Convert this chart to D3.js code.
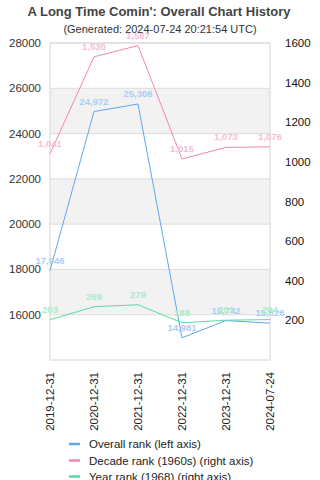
<!DOCTYPE html>
<html>
<head>
<meta charset="utf-8">
<script src="https://d3js.org/d3.v7.min.js"></script>
<style>
  body { margin: 0; background: #fff; }
  text { font-family: Arial, "Liberation Sans", sans-serif; }
</style>
</head>
<body>
<svg id="vis"></svg>
<script>
  // chart data
  var dates = ["2019-12-31", "2020-12-31", "2021-12-31", "2022-12-31", "2023-12-31", "2024-07-24"];
  var overallRank = [17946, 24972, 25306, 14981, 15742, 15626];
  var decadeRank = [1041, 1530, 1587, 1015, 1073, 1076];
  var yearRank = [203, 269, 279, 188, 201, 204];
  var leftTicks = [16000, 18000, 20000, 22000, 24000, 26000, 28000];
  var rightTicks = [200, 400, 600, 800, 1000, 1200, 1400, 1600];
  var seriesNames = ["Overall rank (left axis)", "Decade rank (1960s) (right axis)", "Year rank (1968) (right axis)"];

  var W = 320, H = 480;
  var plotL = 50, plotR = 270, plotT = 43, plotB = 360;

  var svg = d3.select("#vis").attr("width", W).attr("height", H);

  var x = d3.scalePoint().domain(dates).range([plotL, plotR]);
  var yL = d3.scaleLinear().domain([14000, 28000]).range([plotB, plotT]);
  var yR = d3.scaleLinear().domain([0, 1600]).range([plotB, plotT]);

  // alternating bands between left-axis gridlines
  var bandEdges = [14000].concat(leftTicks);
  for (var i = 0; i < bandEdges.length - 1; i++) {
    if (i % 2 === 1) {
      svg.append("rect")
        .attr("x", plotL).attr("width", plotR - plotL)
        .attr("y", yL(bandEdges[i + 1]))
        .attr("height", yL(bandEdges[i]) - yL(bandEdges[i + 1]))
        .attr("fill", "#f2f2f2");
    }
  }

  svg.selectAll(".grid").data(leftTicks).enter().append("line")
    .attr("x1", plotL).attr("x2", plotR)
    .attr("y1", function(d) { return yL(d); }).attr("y2", function(d) { return yL(d); })
    .attr("stroke", "#dddddd").attr("stroke-width", 1);

  svg.append("rect")
    .attr("x", plotL).attr("y", plotT)
    .attr("width", plotR - plotL).attr("height", plotB - plotT)
    .attr("fill", "none").attr("stroke", "#d6d6d6").attr("stroke-width", 1);

  // axes labels
  svg.selectAll(".ltick").data(leftTicks).enter().append("text")
    .attr("x", plotL - 9).attr("y", function(d) { return yL(d) + 4; })
    .attr("text-anchor", "end").attr("font-size", 11.5).attr("fill", "#333")
    .text(function(d) { return d; });

  svg.selectAll(".rtick").data(rightTicks).enter().append("text")
    .attr("x", plotR + 15).attr("y", function(d) { return yR(d) + 4; })
    .attr("text-anchor", "start").attr("font-size", 11.5).attr("fill", "#111")
    .text(function(d) { return d; });

  svg.selectAll(".xtick").data(dates).enter().append("text")
    .attr("transform", function(d) { return "translate(" + (x(d) + 4) + "," + 372 + ") rotate(-90)"; })
    .attr("text-anchor", "end").attr("font-size", 11.5).attr("fill", "#222")
    .text(function(d) { return d; });

  var series = [
    { values: overallRank, y: yL, color: "#5ea8f2", label: "#a9cdf5" },
    { values: decadeRank, y: yR, color: "#f485b6", label: "#f8bcd6" },
    { values: yearRank, y: yR, color: "#5ddba3", label: "#a8ecc9" }
  ];

  series.forEach(function(s) {
    var line = d3.line()
      .x(function(d, i) { return x(dates[i]); })
      .y(function(d) { return s.y(d); });
    svg.append("path").datum(s.values)
      .attr("d", line).attr("fill", "none")
      .attr("stroke", s.color).attr("stroke-width", 1);
  });

  var fmt = d3.format(",");
  series.forEach(function(s) {
    svg.selectAll(null).data(s.values).enter().append("text")
      .attr("x", function(d, i) { return x(dates[i]); })
      .attr("y", function(d) { return s.y(d) - 7; })
      .attr("text-anchor", "middle").attr("font-size", 9.5).attr("font-weight", "bold")
      .attr("fill", s.label)
      .text(function(d) { return fmt(d); });
  });

  // title
  svg.append("text").attr("x", 159).attr("y", 16)
    .attr("text-anchor", "middle").attr("font-size", 13).attr("font-weight", "bold").attr("fill", "#444")
    .text("A Long Time Comin': Overall Chart History");
  svg.append("text").attr("x", 160).attr("y", 33)
    .attr("text-anchor", "middle").attr("font-size", 11).attr("fill", "#333")
    .text("(Generated: 2024-07-24 20:21:54 UTC)");

  // legend
  var legendY = [444, 460.5, 476.5];
  series.forEach(function(s, i) {
    svg.append("line")
      .attr("x1", 69).attr("x2", 80)
      .attr("y1", legendY[i]).attr("y2", legendY[i])
      .attr("stroke", s.color).attr("stroke-width", 2.5);
    svg.append("text")
      .attr("x", 89).attr("y", legendY[i] + 4)
      .attr("font-size", 11.5).attr("fill", "#222")
      .text(seriesNames[i]);
  });
</script>
</body>
</html>
